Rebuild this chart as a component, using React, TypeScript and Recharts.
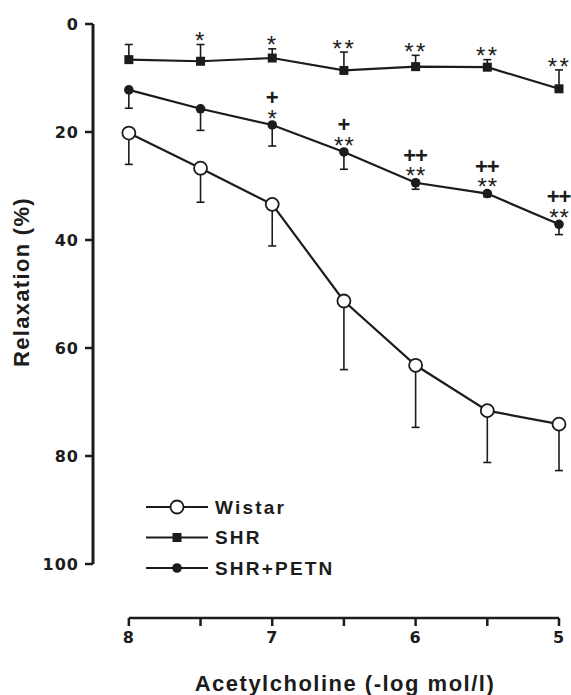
import React from 'react';
import { LineChart, Line, XAxis, YAxis, ErrorBar, ReferenceLine, Legend } from 'recharts';

const doses = [8, 7.5, 7, 6.5, 6, 5.5, 5];
const wistar = [20.2, 26.7, 33.4, 51.3, 63.2, 71.6, 74.1];
const wistarSem = [5.8, 6.3, 7.7, 12.7, 11.5, 9.6, 8.6];
const shr = [6.6, 6.9, 6.3, 8.6, 7.9, 8.0, 12.0];
const shrSem = [2.8, 3.1, 1.7, 3.4, 2.1, 1.4, 3.5];
const petn = [12.2, 15.7, 18.7, 23.7, 29.4, 31.4, 37.1];
const petnSem = [3.4, 4.0, 3.9, 3.2, 1.2, 0.6, 1.9];
// significance marks: * vs Wistar, + vs SHR
const shrVsWistar = ['', '*', '*', '**', '**', '**', '**'];
const petnVsWistar = ['', '', '*', '**', '**', '**', '**'];
const petnVsShr = ['', '', '+', '+', '++', '++', '++'];
const yTicks = [0, 20, 40, 60, 80, 100];
const xTicks = [8, 7.5, 7, 6.5, 6, 5.5, 5];

const ink = '#1c1c1c';
const font = '"Liberation Sans", Arial, sans-serif';
const tickFont = '"DejaVu Sans", sans-serif';

const data = doses.map((d, i) => ({
  dose: d,
  wistar: wistar[i],
  wistarErr: [0, wistarSem[i]],
  shr: shr[i],
  shrErr: [shrSem[i], 0],
  shrTop: shr[i] - shrSem[i],
  petn: petn[i],
  petnErr: [0, petnSem[i]],
}));

const legendItems = [
  { name: 'Wistar', marker: 'open' },
  { name: 'SHR', marker: 'square' },
  { name: 'SHR+PETN', marker: 'dot' },
];

const wistarDot = (p: any) => (
  <circle key={`w${p.index}`} cx={p.cx} cy={p.cy} r={6.5} fill="#fff" stroke={ink} strokeWidth={1.8} />
);
const shrDot = (p: any) => (
  <rect key={`s${p.index}`} x={p.cx - 4.5} y={p.cy - 4.5} width={9} height={9} fill={ink} />
);
const petnDot = (p: any) => <circle key={`p${p.index}`} cx={p.cx} cy={p.cy} r={4.8} fill={ink} />;

const shrMarks = (p: any) => (
  <text key={`sm${p.index}`} x={p.cx + 0.5} y={p.cy + 4.6} textAnchor="middle" fontFamily={font}
    fontSize={24} letterSpacing={2.5} fill={ink}>
    {shrVsWistar[p.index]}
  </text>
);
// stacked marks: "+"/"++" above "*"/"**"
const petnMarks = (p: any) => (
  <text key={`pm${p.index}`} textAnchor="middle" fontFamily={font} fill={ink}>
    <tspan x={p.cx - 0.5} y={p.cy - 20} fontSize={22} fontWeight="bold" letterSpacing={-1}>
      {petnVsShr[p.index]}
    </tspan>
    <tspan x={p.cx + 0.5} y={p.cy + 1.6} fontSize={24} letterSpacing={1}>
      {petnVsWistar[p.index]}
    </tspan>
  </text>
);

const renderLegend = () => (
  <svg width={230} height={90}>
    {legendItems.map((it, i) => {
      const y = 12 + i * 30.5;
      return (
        <g key={it.name}>
          <line x1={1} x2={63} y1={y} y2={y} stroke={ink} strokeWidth={2.2} />
          {it.marker === 'open' && <circle cx={32} cy={y} r={6.5} fill="#fff" stroke={ink} strokeWidth={1.8} />}
          {it.marker === 'square' && <rect x={27.5} y={y - 4.5} width={9} height={9} fill={ink} />}
          {it.marker === 'dot' && <circle cx={32} cy={y} r={4.8} fill={ink} />}
          <text x={70} y={y + 6.8} fontFamily={font} fontSize={19} fontWeight="bold" letterSpacing={2.2} fill={ink}>
            {it.name}
          </text>
        </g>
      );
    })}
  </svg>
);

const tickStyle = { fontFamily: tickFont, fontSize: 16, fontWeight: 'bold', fill: ink, letterSpacing: 1 };

export default function App() {
  return (
    <div style={{ position: 'absolute', left: 0, top: 0, background: '#fff' }}>
      <LineChart width={571} height={695} data={data} margin={{ top: 24, right: 12, left: 0, bottom: 0 }}>
        <XAxis
          dataKey="dose"
          type="number"
          domain={[5, 8.25]}
          reversed
          ticks={xTicks}
          interval={0}
          tickFormatter={(v: number) => (Number.isInteger(v) ? String(v) : '')}
          axisLine={false}
          tickSize={8}
          tickMargin={6}
          tickLine={{ stroke: ink, strokeWidth: 2.5 }}
          tick={tickStyle}
          height={77}
          label={{
            content: () => (
              <text x={345} y={691} textAnchor="middle" fontFamily={font} fontSize={22} fontWeight="bold"
                letterSpacing={1.5} fill={ink}>
                Acetylcholine (-log mol/l)
              </text>
            ),
          }}
        />
        <YAxis
          type="number"
          domain={[0, 110]}
          reversed
          ticks={yTicks}
          interval={0}
          axisLine={false}
          tickSize={8}
          tickMargin={6}
          tickLine={{ stroke: ink, strokeWidth: 2.5 }}
          tick={tickStyle}
          width={93}
          label={{
            content: () => (
              <text x={29} y={282} transform="rotate(-90, 29, 282)" textAnchor="middle" fontFamily={font}
                fontSize={22} fontWeight="bold" letterSpacing={1.3} fill={ink}>
                Relaxation (%)
              </text>
            ),
          }}
        />
        <ReferenceLine segment={[{ x: 8.25, y: 0 }, { x: 8.25, y: 100 }]} stroke={ink} strokeWidth={3} ifOverflow="visible" />
        <ReferenceLine segment={[{ x: 8, y: 110 }, { x: 5, y: 110 }]} stroke={ink} strokeWidth={2.6} ifOverflow="visible" />
        <Legend content={renderLegend} layout="vertical" align="center" verticalAlign="middle"
          wrapperStyle={{ left: 145, top: 495, width: 230, height: 90 }} />
        <Line dataKey="wistar" stroke={ink} strokeWidth={2.2} dot={wistarDot} activeDot={false} isAnimationActive={false}>
          <ErrorBar dataKey="wistarErr" direction="y" width={4} stroke={ink} strokeWidth={1.6} isAnimationActive={false} />
        </Line>
        <Line dataKey="shr" stroke={ink} strokeWidth={2.2} dot={shrDot} activeDot={false} isAnimationActive={false}>
          <ErrorBar dataKey="shrErr" direction="y" width={4} stroke={ink} strokeWidth={1.6} isAnimationActive={false} />
        </Line>
        <Line dataKey="petn" stroke={ink} strokeWidth={2.2} dot={petnDot} activeDot={false} isAnimationActive={false}>
          <ErrorBar dataKey="petnErr" direction="y" width={4} stroke={ink} strokeWidth={1.6} isAnimationActive={false} />
        </Line>
        <Line dataKey="shrTop" stroke="none" dot={shrMarks} activeDot={false} legendType="none" isAnimationActive={false} />
        <Line dataKey="petn" stroke="none" dot={petnMarks} activeDot={false} legendType="none" isAnimationActive={false} />
      </LineChart>
    </div>
  );
}
